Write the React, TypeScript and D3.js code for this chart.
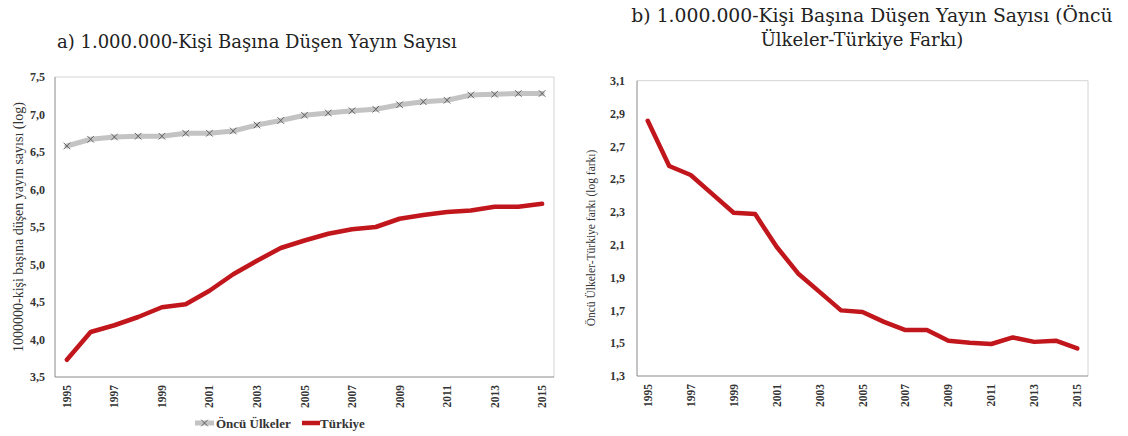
import * as d3 from 'd3';

const years = [1995, 1996, 1997, 1998, 1999, 2000, 2001, 2002, 2003, 2004, 2005, 2006, 2007, 2008, 2009, 2010, 2011, 2012, 2013, 2014, 2015];
const labelYears = [1995, 1997, 1999, 2001, 2003, 2005, 2007, 2009, 2011, 2013, 2015];

// panel a: log of publications per 1,000,000 people
const oncu = [6.58, 6.67, 6.70, 6.71, 6.71, 6.75, 6.75, 6.78, 6.86, 6.92, 6.99, 7.02, 7.05, 7.07, 7.13, 7.17, 7.19, 7.26, 7.27, 7.28, 7.28];
const turkiye = [3.73, 4.10, 4.19, 4.30, 4.43, 4.47, 4.65, 4.87, 5.05, 5.22, 5.32, 5.41, 5.47, 5.50, 5.61, 5.66, 5.70, 5.72, 5.77, 5.77, 5.81];
const ticksA = [3.5, 4.0, 4.5, 5.0, 5.5, 6.0, 6.5, 7.0, 7.5];

// panel b: difference (log)
const fark = [2.856, 2.58, 2.525, 2.41, 2.295, 2.287, 2.088, 1.925, 1.813, 1.70, 1.69, 1.63, 1.58, 1.58, 1.515, 1.503, 1.495, 1.535, 1.508, 1.515, 1.468];
const ticksB = [1.3, 1.5, 1.7, 1.9, 2.1, 2.3, 2.5, 2.7, 2.9, 3.1];

const FONT = '"Liberation Serif", "DejaVu Serif", serif';
const TITLE_FONT = '"DejaVu Serif", "Liberation Serif", serif';
const RED = '#c0161c';
const GRAY = '#c3c3c3';
const fmt = (v: number) => v.toFixed(1).replace('.', ',');

type PanelProps = {
  x0: number; x1: number; y0: number; y1: number;
  domain: [number, number]; ticks: number[];
  children: (x: d3.ScalePoint<number>, y: d3.ScaleLinear<number, number>) => React.ReactNode;
  labelGap: number;
};

function Panel({ x0, x1, y0, y1, domain, ticks, children, labelGap }: PanelProps) {
  const x = d3.scalePoint<number>().domain(years).range([x0, x1]).padding(0.5);
  const y = d3.scaleLinear().domain(domain).range([y1, y0]);
  return (
    <g>
      <line x1={x0} x2={x1} y1={y0} y2={y0} stroke="#d4d4d4" />
      <line x1={x1} x2={x1} y1={y0} y2={y1} stroke="#d4d4d4" />
      <line x1={x0} x2={x0} y1={y0} y2={y1} stroke="#8a8a8a" />
      <line x1={x0} x2={x1} y1={y1} y2={y1} stroke="#8a8a8a" />
      {ticks.map(t => (
        <text key={t} x={x0 - labelGap} y={y(t)} dy="0.35em" textAnchor="end" fontSize={12} fontWeight="bold" fill="#333">{fmt(t)}</text>
      ))}
      {labelYears.map(yr => (
        <text key={yr} transform={`translate(${x(yr)},${y1 + 8}) rotate(-90)`} dy="0.35em" textAnchor="end" fontSize={11.5} fontWeight="bold" fill="#333">{yr}</text>
      ))}
      {children(x, y)}
    </g>
  );
}

function XMark({ cx, cy }: { cx: number; cy: number }) {
  const s = 3.3;
  return <path d={`M${cx - s},${cy - s}L${cx + s},${cy + s}M${cx - s},${cy + s}L${cx + s},${cy - s}`} stroke="#555" strokeWidth={0.9} />;
}

export default function App() {
  return (
    <svg width={1128} height={436} style={{ position: 'absolute', left: 0, top: 0, background: '#fff' }} fontFamily={FONT}>
      <g fontFamily={TITLE_FONT} fill="#222">
        <text x={57} y={48} fontSize={18}>a) 1.000.000-Kişi Başına Düşen Yayın Sayısı</text>
        <text x={872} y={22} textAnchor="middle" fontSize={18.8}>b) 1.000.000-Kişi Başına Düşen Yayın Sayısı (Öncü</text>
        <text x={862} y={46} textAnchor="middle" fontSize={18}>Ülkeler-Türkiye Farkı)</text>
      </g>

      <Panel x0={55} x1={554} y0={77} y1={377} domain={[3.5, 7.5]} ticks={ticksA} labelGap={10}>
        {(x, y) => {
          const line = d3.line<number>().x((_, i) => x(years[i])!).y(d => y(d));
          return (
            <g>
              <path d={line(oncu)!} fill="none" stroke={GRAY} strokeWidth={5} strokeLinejoin="round" strokeLinecap="round" />
              {oncu.map((v, i) => <XMark key={i} cx={x(years[i])!} cy={y(v)} />)}
              <path d={line(turkiye)!} fill="none" stroke={RED} strokeWidth={4.5} strokeLinejoin="round" strokeLinecap="round" />
            </g>
          );
        }}
      </Panel>
      <text transform="translate(18,227) rotate(-90)" textAnchor="middle" dy="0.35em" fontSize={14} fill="#333">1000000-kişi başına düşen yayın sayısı (log)</text>

      <Panel x0={637} x1={1088} y0={80.7} y1={376} domain={[1.3, 3.1]} ticks={ticksB} labelGap={12}>
        {(x, y) => {
          const line = d3.line<number>().x((_, i) => x(years[i])!).y(d => y(d));
          return <path d={line(fark)!} fill="none" stroke={RED} strokeWidth={4.5} strokeLinejoin="round" strokeLinecap="round" />;
        }}
      </Panel>
      <text transform="translate(591,238) rotate(-90)" textAnchor="middle" dy="0.35em" fontSize={11.5} fill="#333">Öncü Ülkeler-Türkiye farkı (log farkı)</text>

      {/* legend */}
      <line x1={195} x2={214} y1={423} y2={423} stroke={GRAY} strokeWidth={5} />
      <XMark cx={204.5} cy={423} />
      <text x={216} y={423} dy="0.35em" fontSize={13} fontWeight="bold" fill="#333">Öncü Ülkeler</text>
      <line x1={302} x2={320} y1={423} y2={423} stroke={RED} strokeWidth={4.5} />
      <text x={320} y={423} dy="0.35em" fontSize={13} fontWeight="bold" fill="#333">Türkiye</text>
    </svg>
  );
}
